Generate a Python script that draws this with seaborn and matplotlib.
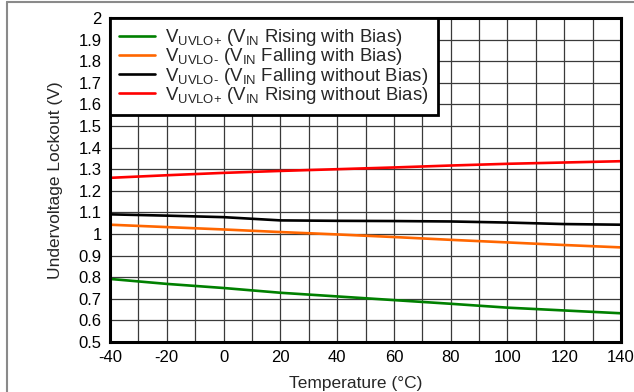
import numpy as np
import pandas as pd
import matplotlib
matplotlib.use("Agg")
import matplotlib.pyplot as plt
from matplotlib.lines import Line2D
import seaborn as sns

# Temperature sweep (°C)
temperature = [-40, -20, 0, 20, 40, 60, 80, 100, 120, 140]

# Undervoltage lockout thresholds (V)
uvlo_rise_bias = [0.792, 0.769, 0.750, 0.728, 0.711, 0.694, 0.677, 0.659, 0.646, 0.633]
uvlo_fall_bias = [1.043, 1.032, 1.021, 1.009, 0.998, 0.986, 0.973, 0.961, 0.949, 0.938]
uvlo_fall_nobias = [1.091, 1.085, 1.078, 1.063, 1.061, 1.060, 1.058, 1.053, 1.046, 1.043]
uvlo_rise_nobias = [1.260, 1.272, 1.283, 1.292, 1.300, 1.308, 1.317, 1.325, 1.331, 1.337]

series_labels = [
    r"V$_{\mathregular{UVLO{+}}}$ (V$_{\mathregular{IN}}$ Rising with Bias)",
    "V$_{\\mathregular{UVLO\u2010}}$ (V$_{\\mathregular{IN}}$ Falling with Bias)",
    "V$_{\\mathregular{UVLO\u2010}}$ (V$_{\\mathregular{IN}}$ Falling without Bias)",
    r"V$_{\mathregular{UVLO{+}}}$ (V$_{\mathregular{IN}}$ Rising without Bias)",
]
series_colors = ["#008000", "#FF6600", "#000000", "#FF0000"]

x_ticks = [-40, -20, 0, 20, 40, 60, 80, 100, 120, 140]
y_ticks = [0.5, 0.6, 0.7, 0.8, 0.9, 1, 1.1, 1.2, 1.3, 1.4, 1.5, 1.6, 1.7, 1.8, 1.9, 2]
y_tick_labels = ["0.5", "0.6", "0.7", "0.8", "0.9", "1", "1.1", "1.2", "1.3",
                 "1.4", "1.5", "1.6", "1.7", "1.8", "1.9", "2"]

frames = []
for label, values in zip(series_labels,
                         [uvlo_rise_bias, uvlo_fall_bias, uvlo_fall_nobias, uvlo_rise_nobias]):
    frames.append(pd.DataFrame({"Temperature": temperature, "UVLO": values, "Series": label}))
df = pd.concat(frames, ignore_index=True)

sns.set_style("white")
plt.rcParams["font.family"] = ["Liberation Sans", "DejaVu Sans"]
plt.rcParams["mathtext.fontset"] = "custom"
plt.rcParams["mathtext.rm"] = "Liberation Sans"
plt.rcParams["axes.unicode_minus"] = False

W, H = 634, 392
fig = plt.figure(figsize=(W / 100, H / 100), dpi=100)
ax = fig.add_axes([110 / W, 1 - 342 / H, (621 - 110) / W, (342 - 18) / H])

sns.lineplot(data=df, x="Temperature", y="UVLO", hue="Series",
             palette=dict(zip(series_labels, series_colors)),
             hue_order=series_labels, linewidth=1.9, ax=ax, legend=False,
             zorder=3)

ax.set_xlim(-40, 140)
ax.set_ylim(0.5, 2.0)
ax.set_xticks(x_ticks)
ax.set_yticks(y_ticks)
ax.set_yticklabels(y_tick_labels)
ax.set_xticks(np.arange(-40, 141, 10), minor=True)
ax.grid(True, which="both", color="#3a3a3a", linewidth=0.9)
ax.tick_params(which="both", length=0, labelsize=12, colors="black", pad=6)
ax.set_xlabel("Temperature (°C)", fontsize=12.5)
ax.set_ylabel("Undervoltage Lockout (V)", fontsize=12.5, labelpad=11)
ax.xaxis.set_label_coords(0.48, -0.105, transform=ax.transAxes)
for s in ax.spines.values():
    s.set_color("black")
    s.set_linewidth(2.2)
    s.set_zorder(5)

handles = [Line2D([0], [0], color=c, linewidth=1.9) for c in series_colors]
leg = ax.legend(handles, series_labels, loc="upper left", bbox_to_anchor=(0, 1),
                borderaxespad=0, fancybox=False, framealpha=1, fontsize=13.4,
                handlelength=1.9, handletextpad=0.56, labelspacing=-0.1,
                borderpad=0.5)
leg.get_frame().set_edgecolor("black")
leg.get_frame().set_linewidth(2.0)
leg.set_zorder(6)

# outer frame of the figure
fig.add_artist(Line2D([7 / W, 7 / W], [0, 1 - 1.5 / H], color="#8a8a8a", linewidth=1.5))
fig.add_artist(Line2D([7 / W, 1], [1 - 1.5 / H, 1 - 1.5 / H], color="#8a8a8a", linewidth=1.5))

fig.savefig("out.png", dpi=100)
